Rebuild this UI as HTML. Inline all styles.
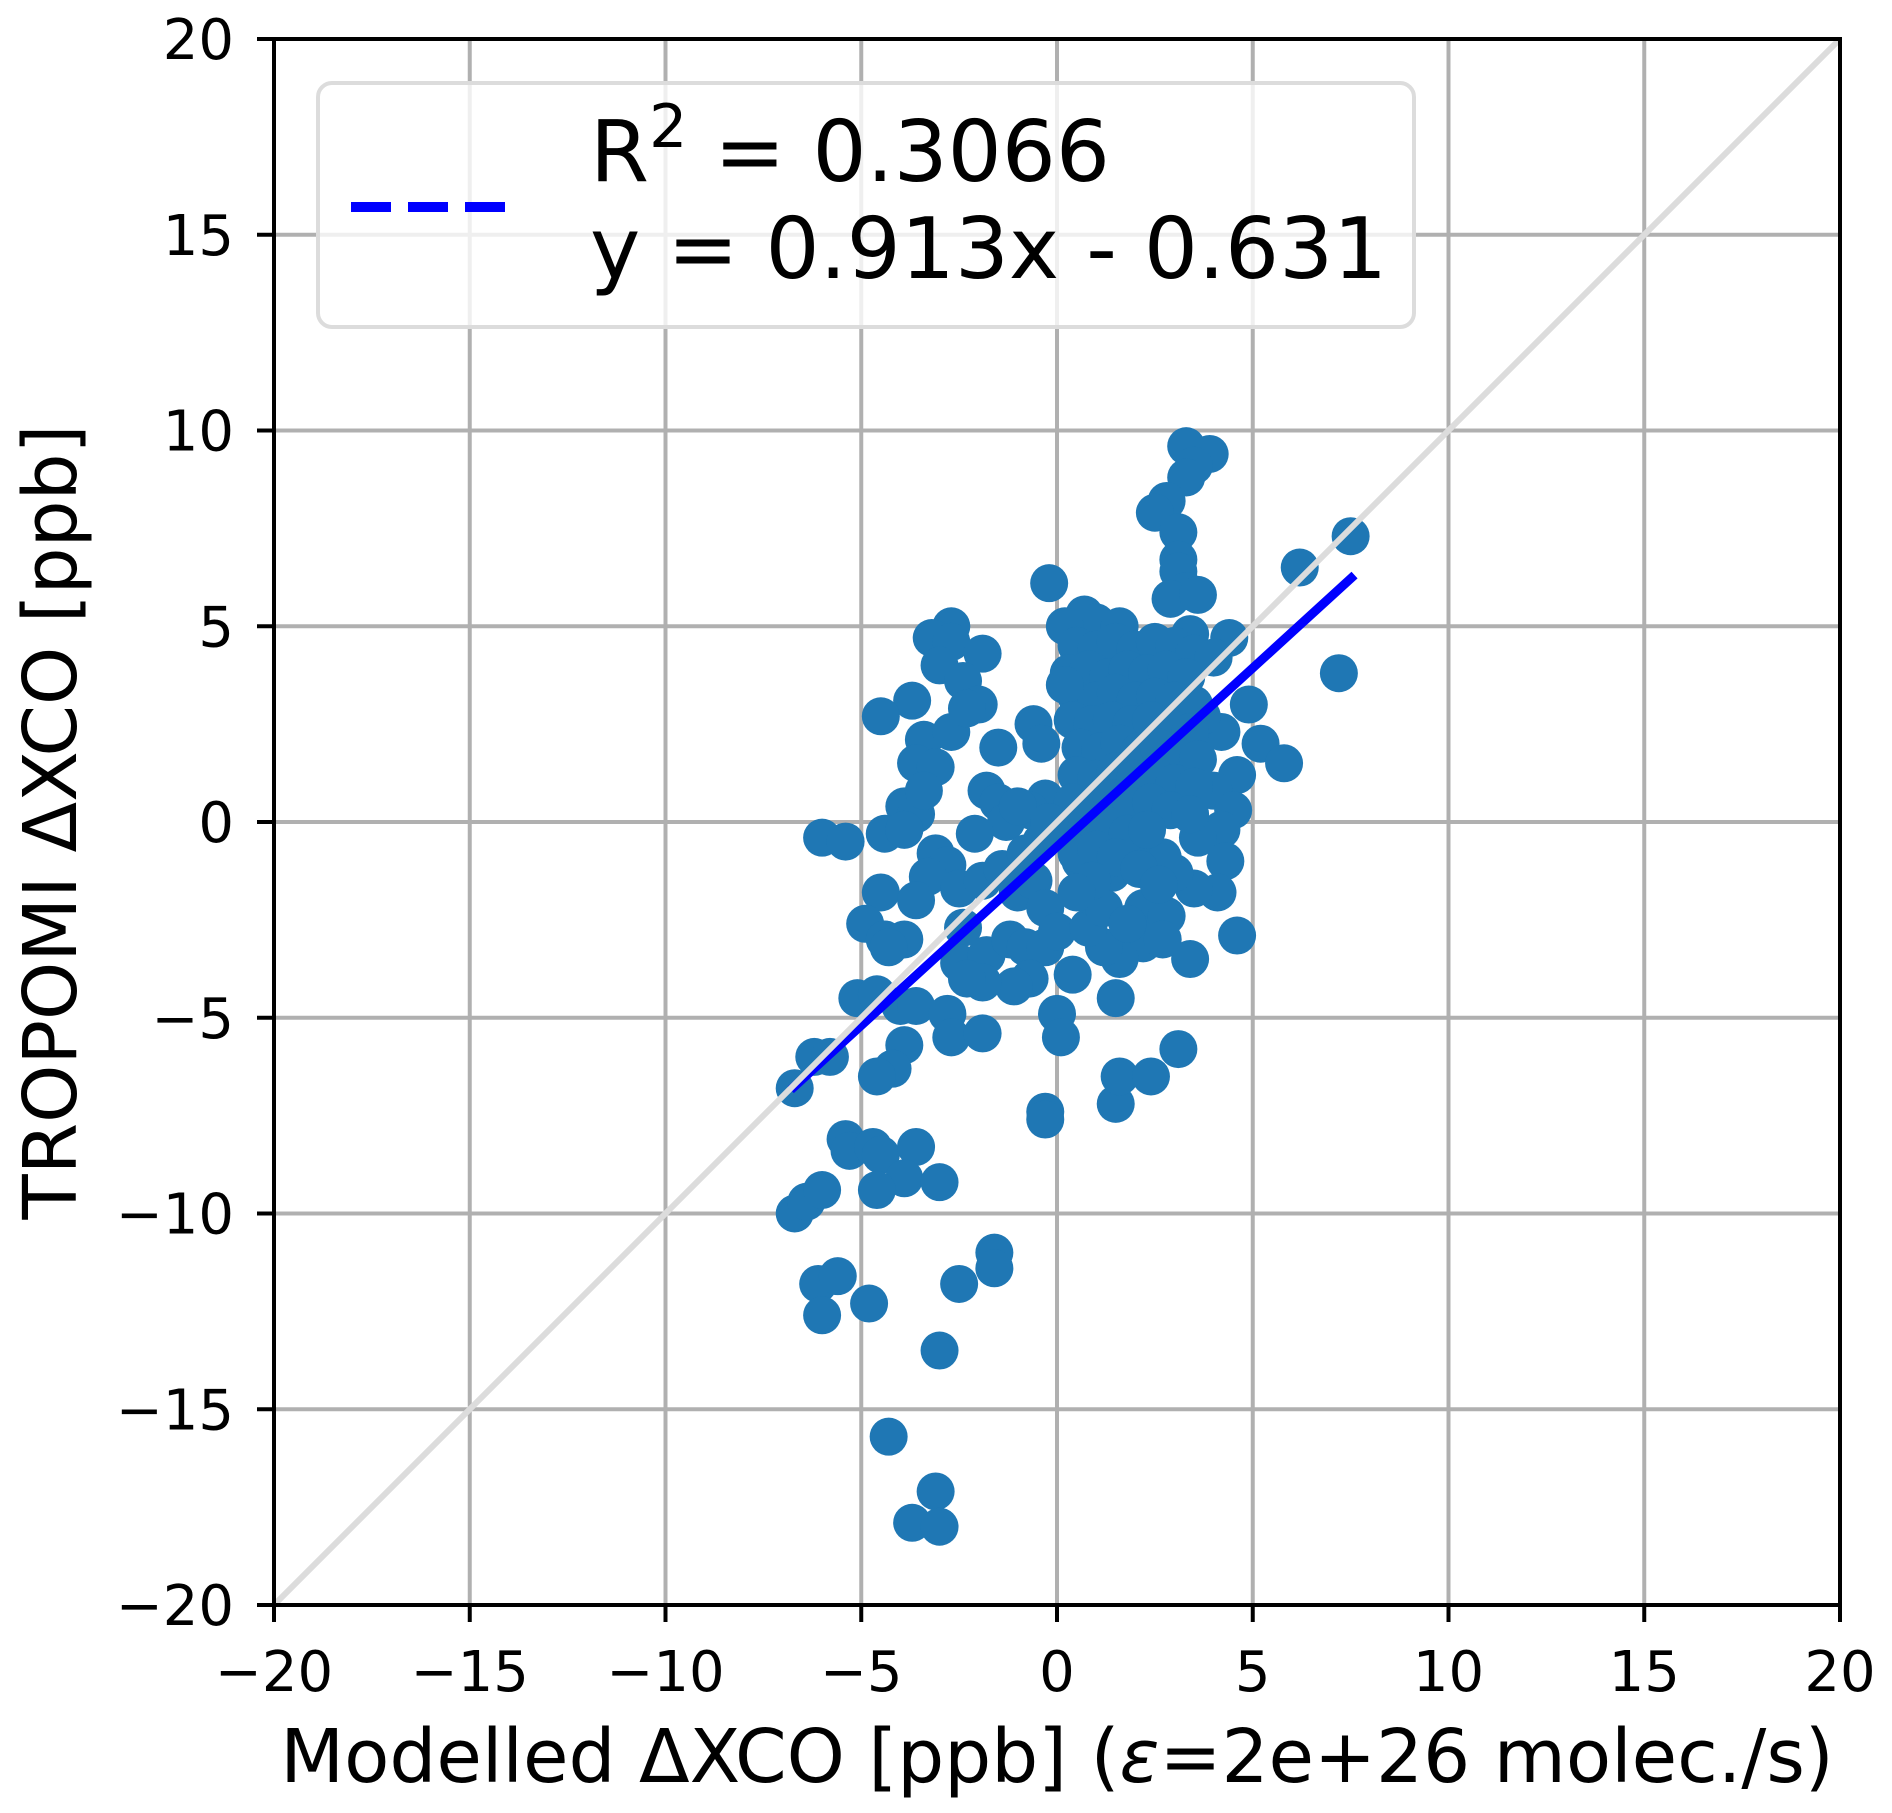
<!DOCTYPE html>
<html><head><meta charset="utf-8"><style>
html,body{margin:0;padding:0;background:#fff;}
svg{display:block;font-family:"DejaVu Sans","Liberation Sans",sans-serif;}
</style></head><body>
<svg id="chart" width="1892" height="1813" viewBox="0 0 1892 1813" xmlns="http://www.w3.org/2000/svg">
<rect width="1892" height="1813" fill="#fff"/>
<g id="grid"></g>
<g id="points"></g>
<line id="fit" stroke="#0000ff" stroke-width="9"/>
<line id="diag" stroke="#dcdcdc" stroke-width="6"/>
<rect x="274" y="39" width="1566" height="1566" fill="none" stroke="#000" stroke-width="4"/>
<g id="ticks"></g>
<g>
<rect x="318" y="83" width="1096" height="244" rx="14" fill="#fff" fill-opacity="0.8" stroke="#dcdcdc" stroke-width="4"/>
<line x1="351" y1="207" x2="514" y2="207" stroke="#0000ff" stroke-width="10" stroke-dasharray="40,17"/>
<text x="590" y="181" font-size="85">R<tspan dy="-34" font-size="60">2</tspan><tspan dy="34"> = 0.3066</tspan></text>
<text x="590" y="278" font-size="85">y = 0.913x - 0.631</text>
</g>
<text x="1057" y="1782" font-size="74" text-anchor="middle">Modelled ΔXCO [ppb] (<tspan font-style="italic">ε</tspan>=2e+26 molec./s)</text>
<text transform="translate(76,822) rotate(-90)" font-size="74" text-anchor="middle">TROPOMI ΔXCO [ppb]</text>
</svg>
<script>
const xTicks = [-20,-15,-10,-5,0,5,10,15,20];
const yTicks = [-20,-15,-10,-5,0,5,10,15,20];
const fitSlope = 0.913;
const fitIntercept = -0.631;
const fitRange = [-6.8, 7.6];
const xs = [3.3,3.9,3.5,3.3,2.8,2.5,3.1,3.1,3.1,3.3,2.9,3.6,7.5,6.2,-0.2,0.7,1.0,0.2,1.6,4.4,3.4,
-2.7,-3.2,-2.7,-1.9,-3.0,-2.4,-2.0,-3.7,-4.5,-3.4,-2.7,-2.3,-1.5,-3.6,-3.1,-1.8,-1.5,-3.9,-3.6,-3.4,-0.6,-0.4,-0.3,-0.7,-1.3,-2.1,-6.0,-5.4,-4.4,-3.9,-3.1,-2.8,-3.3,-4.5,-3.6,-2.5,-1.9,-1.4,-1.0,-0.6,-0.3,-4.9,-4.4,-3.9,-4.3,-2.4,-2.5,-1.8,-1.2,-0.8,-0.3,0.0,0.4,-0.7,-1.1,-1.9,-2.3,-5.1,-4.6,-4.0,-3.6,-2.8,-2.7,-1.9,-3.9,0.0,0.1,1.5,
-6.7,-6.2,-5.8,-4.2,-4.6,-0.3,-0.3,1.5,1.6,2.4,3.1,3.4,4.6,
-5.4,-5.3,-4.7,-4.5,-3.6,-3.9,-3.0,-4.6,-6.7,-6.4,-6.0,-6.1,-5.6,-6.0,-4.8,-2.5,-1.6,-1.6,-3.0,-4.3,-3.7,-3.1,-3.0,
4.2,3.7,4.9,5.2,5.8,4.6,4.0,4.5,4.2,3.6,4.3,4.1,3.5,3.0,2.7,2.2,2.8,2.2,1.6,1.2,0.8,0.9,0.6,1.4,1.9,7.2,2.7,
0.5,1.0,1.5,2.0,2.5,3.0,3.5,4.0,0.3,0.8,1.3,1.8,2.3,2.8,3.3,0.5,1.0,1.5,2.0,2.5,3.0,3.5,0.2,0.4,0.9,1.4,1.9,2.4,2.9,3.4,0.6,1.1,1.6,2.1,2.6,3.1,3.6,0.5,1.0,1.5,2.0,2.5,3.0,3.5,0.4,0.9,1.4,1.9,2.4,2.9,3.4,0.3,0.8,1.3,1.8,2.3,0.5,1.0,1.5,2.1,2.6,1.2,1.8,0.9,0.5,-0.4,-0.8,-1.0,-0.2];
const ys = [9.6,9.4,9.1,8.8,8.2,7.9,7.4,6.7,6.4,5.9,5.7,5.8,7.3,6.5,6.1,5.3,5.1,5.0,5.0,4.7,4.8,
5.0,4.7,4.6,4.3,4.0,3.6,3.0,3.1,2.7,2.1,2.3,2.9,1.9,1.5,1.4,0.8,0.5,0.4,0.2,0.8,2.5,2.0,0.6,0.3,0.0,-0.3,-0.4,-0.5,-0.3,-0.2,-0.8,-1.1,-1.4,-1.8,-2.0,-1.7,-1.5,-1.2,-1.8,-1.5,-2.2,-2.6,-3.0,-3.0,-3.2,-2.7,-3.6,-3.4,-3.0,-3.2,-3.2,-2.8,-3.9,-4.0,-4.2,-4.1,-4.0,-4.5,-4.4,-4.7,-4.7,-4.9,-5.5,-5.4,-5.7,-4.9,-5.5,-4.5,
-6.8,-6.0,-6.0,-6.3,-6.5,-7.4,-7.6,-7.2,-6.5,-6.5,-5.8,-3.5,-2.9,
-8.1,-8.4,-8.3,-8.5,-8.3,-9.1,-9.2,-9.4,-10.0,-9.7,-9.4,-11.8,-11.6,-12.6,-12.3,-11.8,-11.0,-11.4,-13.5,-15.7,-17.9,-17.1,-18.0,
2.3,2.7,3.0,2.0,1.5,1.2,0.8,0.3,-0.2,-0.4,-1.0,-1.8,-1.7,-1.3,-0.9,-2.2,-2.4,-3.1,-3.5,-3.2,-2.7,-1.9,-1.0,-1.3,-0.6,3.8,-3.0,
4.5,4.4,4.6,4.4,4.6,4.5,4.3,4.2,3.8,3.9,3.7,3.9,3.8,3.9,3.7,3.2,3.1,3.3,3.1,3.2,3.1,3.0,3.5,2.6,2.5,2.6,2.5,2.6,2.4,2.3,1.9,1.8,2.0,1.8,1.9,1.7,1.6,1.2,1.1,1.3,1.1,1.2,1.0,0.9,0.5,0.4,0.6,0.4,0.5,0.3,0.2,-0.2,-0.3,-0.1,-0.3,-0.2,-0.8,-0.7,-0.9,-1.2,-1.6,-2.2,-2.6,-1.5,-1.8,-0.5,-0.8,0.4,0.0];

const L=274, T=39, S=1566, MIN=-20, MAX=20;
function sx(v){return L+(v-MIN)/(MAX-MIN)*S;}
function sy(v){return T+S-(v-MIN)/(MAX-MIN)*S;}
const NS='http://www.w3.org/2000/svg';
function mk(tag, attrs){const e=document.createElementNS(NS,tag);for(const k in attrs)e.setAttribute(k,attrs[k]);return e;}
const grid=document.getElementById('grid'), ticks=document.getElementById('ticks');
xTicks.forEach(v=>{
  const g=mk('line',{x1:sx(v),x2:sx(v),y1:T,y2:T+S,stroke:'#b0b0b0','stroke-width':4});
  
  
  grid.appendChild(g);
  const t=mk('line',{x1:sx(v),x2:sx(v),y1:T+S,y2:T+S+17,stroke:'#000','stroke-width':4});
  
  
  ticks.appendChild(t);
  const lb=mk('text',{x:sx(v),y:1691,'font-size':56,'text-anchor':'middle'});
  
  
  lb.textContent=v<0?'\u2212'+Math.abs(v):String(v);
  ticks.appendChild(lb);
});
yTicks.forEach(v=>{
  const g=mk('line',{y1:sy(v),y2:sy(v),x1:L,x2:L+S,stroke:'#b0b0b0','stroke-width':4});
  
  
  grid.appendChild(g);
  const t=mk('line',{y1:sy(v),y2:sy(v),x1:L-17,x2:L,stroke:'#000','stroke-width':4});
  
  
  ticks.appendChild(t);
  const lb=mk('text',{x:234,y:sy(v)+20,'font-size':56,'text-anchor':'end'});
  
  
  lb.textContent=v<0?'\u2212'+Math.abs(v):String(v);
  ticks.appendChild(lb);
});
const d=document.getElementById('diag');
d.setAttribute('x1',sx(MIN));d.setAttribute('y1',sy(MIN));d.setAttribute('x2',sx(MAX));d.setAttribute('y2',sy(MAX));
const pts=document.getElementById('points');
xs.forEach((x,i)=>{
  const c=mk('circle',{cx:sx(x),cy:sy(ys[i]),r:19,fill:'#1f77b4'});
  
  
  pts.appendChild(c);
});
const f=document.getElementById('fit');
f.setAttribute('x1',sx(fitRange[0]));f.setAttribute('y1',sy(fitSlope*fitRange[0]+fitIntercept));
f.setAttribute('x2',sx(fitRange[1]));f.setAttribute('y2',sy(fitSlope*fitRange[1]+fitIntercept));
</script>
</body></html>
